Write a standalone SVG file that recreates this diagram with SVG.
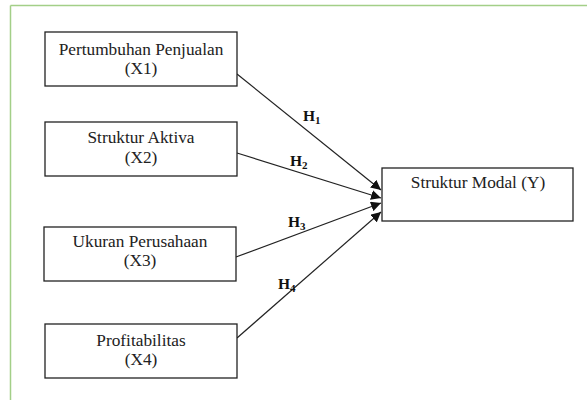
<svg xmlns="http://www.w3.org/2000/svg" width="587" height="400" viewBox="0 0 587 400">
<defs>
<style>
.box{fill:#fff;stroke:#222;stroke-width:1.3}
.t{font-family:"Liberation Serif","Times New Roman",serif;font-size:17.3px;fill:#222;text-anchor:middle}
.h{font-family:"Liberation Serif","Times New Roman",serif;font-size:15.5px;font-weight:bold;fill:#111}
.s{font-size:11px}
.c{stroke:#222;stroke-width:1.2;fill:none;marker-end:url(#ah)}
</style>
<marker id="ah" viewBox="0 0 10 10" refX="10" refY="5" markerWidth="10" markerHeight="10" markerUnits="userSpaceOnUse" orient="auto">
<path d="M0,0 L10,5 L0,10 z" fill="#111"/>
</marker>
</defs>
<rect width="587" height="400" fill="#fff"/>
<g id="frame" stroke="#a3cf88" stroke-width="1.5" fill="none">
<line x1="10.5" y1="5.5" x2="587" y2="5.5"/>
<line x1="10.5" y1="5.5" x2="10.5" y2="400"/>
</g>
<g id="connectors">
<line class="c" x1="237" y1="74" x2="381" y2="190"/>
<line class="c" x1="237" y1="153" x2="381" y2="198"/>
<line class="c" x1="236" y1="257" x2="381" y2="203"/>
<line class="c" x1="237" y1="338" x2="381" y2="212"/>
<text class="h" x="303" y="121">H<tspan class="s" dy="3">1</tspan></text>
<text class="h" x="290" y="166">H<tspan class="s" dy="3">2</tspan></text>
<text class="h" x="288" y="227">H<tspan class="s" dy="3">3</tspan></text>
<text class="h" x="278" y="289">H<tspan class="s" dy="3">4</tspan></text>
</g>
<g id="x1">
<rect class="box" x="45" y="32" width="192" height="54"/>
<text class="t" x="141" y="55">Pertumbuhan Penjualan</text>
<text class="t" x="141" y="74">(X1)</text>
</g>
<g id="x2">
<rect class="box" x="45" y="122" width="192" height="54"/>
<text class="t" x="141" y="143">Struktur Aktiva</text>
<text class="t" x="141" y="163">(X2)</text>
</g>
<g id="x3">
<rect class="box" x="44" y="227" width="192" height="54"/>
<text class="t" x="140" y="247">Ukuran Perusahaan</text>
<text class="t" x="140" y="266">(X3)</text>
</g>
<g id="x4">
<rect class="box" x="45" y="324" width="192" height="54"/>
<text class="t" x="141" y="346">Profitabilitas</text>
<text class="t" x="141" y="365">(X4)</text>
</g>
<g id="y">
<rect class="box" x="382" y="168" width="191" height="53"/>
<text class="t" x="478" y="188">Struktur Modal (Y)</text>
</g>
</svg>
